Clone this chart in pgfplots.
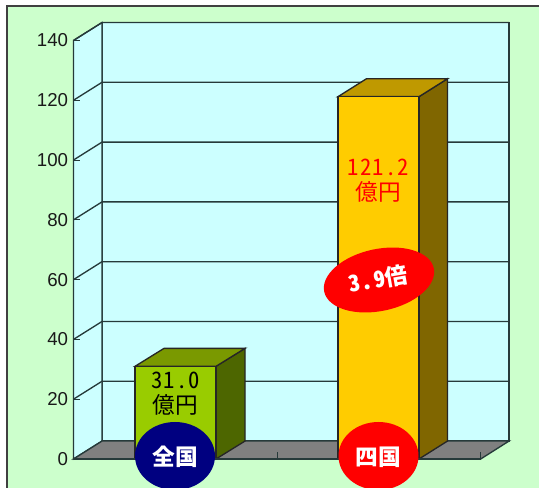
\documentclass[border=0pt]{standalone}
\usepackage{pgfplots}
\pgfplotsset{compat=1.18}
\usepackage{fontspec}
\setmainfont{Liberation Sans}
\newfontfamily\jp[RawFeature=+hwid]{Noto Sans CJK JP}
\newfontfamily\jpd[RawFeature=+hwid,LetterSpace=5]{Noto Sans CJK JP}
\definecolor{bg}{HTML}{CCFFCC}
\definecolor{wall}{HTML}{CCFFFF}
\definecolor{floorc}{HTML}{808080}
\definecolor{gf}{HTML}{99CC00}
\definecolor{gt}{HTML}{7A9900}
\definecolor{gs}{HTML}{4D6600}
\definecolor{yf}{HTML}{FFCC00}
\definecolor{yt}{HTML}{BF9900}
\definecolor{ys}{HTML}{806600}
\definecolor{ln}{HTML}{263A3A}
\definecolor{nv}{HTML}{000080}
\begin{document}
\begin{tikzpicture}
\useasboundingbox (0,0) rectangle (404.25pt,366pt);
\clip (0,0) rectangle (404.25pt,366pt);
% scope coordinates are reference pixels, y downward
\begin{scope}[x=0.75pt,y=-0.75pt,yshift=366pt]
\fill[white] (0,0) rectangle (539,488);
\fill[bg] (7,6) rectangle (539,488);
\draw[color=black!75,line width=1.1pt] (7,488) -- (7,6) -- (539,6);
\end{scope}
\begin{axis}[
  at={(55.125pt,21.75pt)}, anchor=south west,
  scale only axis, width=305.4pt, height=313.9pt,
  xmin=73.5, xmax=480.7, ymin=0, ymax=140,
  clip=false, axis on top,
  axis x line*=bottom, axis y line*=left,
  axis line style={-, color=ln, line width=1pt},
  xtick={73.5,277.1,480.7}, xticklabels={},
  ytick={0,20,...,140},
  tick align=inside, major tick length=5.2pt,
  tick style={color=ln, line width=0.8pt},
  ticklabel style={font=\fontsize{14}{14}\selectfont, text=black!90},
  yticklabel style={xshift=-0.5pt},
  /pgf/number format/assume math mode=true,
]
% back wall, left wall, floor (depth = 28.5 px, 6 units)
\addplot[fill=wall, draw=ln, line width=1pt] coordinates {(102,6) (509,6) (509,146) (102,146)} -- cycle;
\addplot[fill=wall, draw=ln, line width=1pt] coordinates {(73.5,0) (102,6) (102,146) (73.5,140)} -- cycle;
\addplot[fill=floorc, draw=ln, line width=1pt] coordinates {(73.5,0) (102,6) (509,6) (480.7,0)} -- cycle;
% grid lines
\addplot[ln, line width=1pt] coordinates {(73.5,20) (102,26) (509,26)};
\addplot[ln, line width=1pt] coordinates {(73.5,40) (102,46) (509,46)};
\addplot[ln, line width=1pt] coordinates {(73.5,60) (102,66) (509,66)};
\addplot[ln, line width=1pt] coordinates {(73.5,80) (102,86) (509,86)};
\addplot[ln, line width=1pt] coordinates {(73.5,100) (102,106) (509,106)};
\addplot[ln, line width=1pt] coordinates {(73.5,120) (102,126) (509,126)};
\addplot[ln, line width=1pt] coordinates {(73.5,140) (102,146) (509,146)};
% bar national 31.0
\addplot[fill=gs, draw=black!85, line width=1pt] coordinates {(216,0) (245,6) (245,37) (216,31)} -- cycle;
\addplot[fill=gt, draw=black!85, line width=1pt] coordinates {(135,31) (216,31) (245,37) (164,37)} -- cycle;
\addplot[fill=gf, draw=black!85, line width=1pt] coordinates {(135,0) (216,0) (216,31) (135,31)} -- cycle;
% bar Shikoku 121.2
\addplot[fill=ys, draw=black!85, line width=1pt] coordinates {(419,0) (447.5,6) (447.5,127.2) (419,121.2)} -- cycle;
\addplot[fill=yt, draw=black!85, line width=1pt] coordinates {(338,121.2) (419,121.2) (447.5,127.2) (366.5,127.2)} -- cycle;
\addplot[fill=yf, draw=black!85, line width=1pt] coordinates {(338,0) (419,0) (419,121.2) (338,121.2)} -- cycle;
\end{axis}
\begin{scope}[x=0.75pt,y=-0.75pt,yshift=366pt]
\node[align=center, text=black, font=\fontsize{17}{19}\selectfont] at (175.5,394) {{\jpd 31.0}\\{\jp 億円}};
\node[align=center, text=red, font=\fontsize{17}{19}\selectfont] at (378.5,181) {{\jpd 121.2}\\{\jp 億円}};
\fill[nv] (175,456) ellipse [x radius=40, y radius=34];
\fill[red] (378.5,456) ellipse [x radius=40, y radius=34];
\node[text=white, font=\jp\bfseries\fontsize{17}{17}\selectfont] at (175,457) {全国};
\node[text=white, font=\jp\bfseries\fontsize{17}{17}\selectfont] at (378.5,457) {四国};
\fill[red, rotate around={12:(379,280)}] (379,280) ellipse [x radius=56, y radius=31];
\node[text=white, rotate=10, inner sep=0pt, font=\bfseries\fontsize{17}{17}\selectfont] at (378,279) {{\jpd 3.9}{\jp 倍}};
\end{scope}
\end{tikzpicture}
\end{document}
